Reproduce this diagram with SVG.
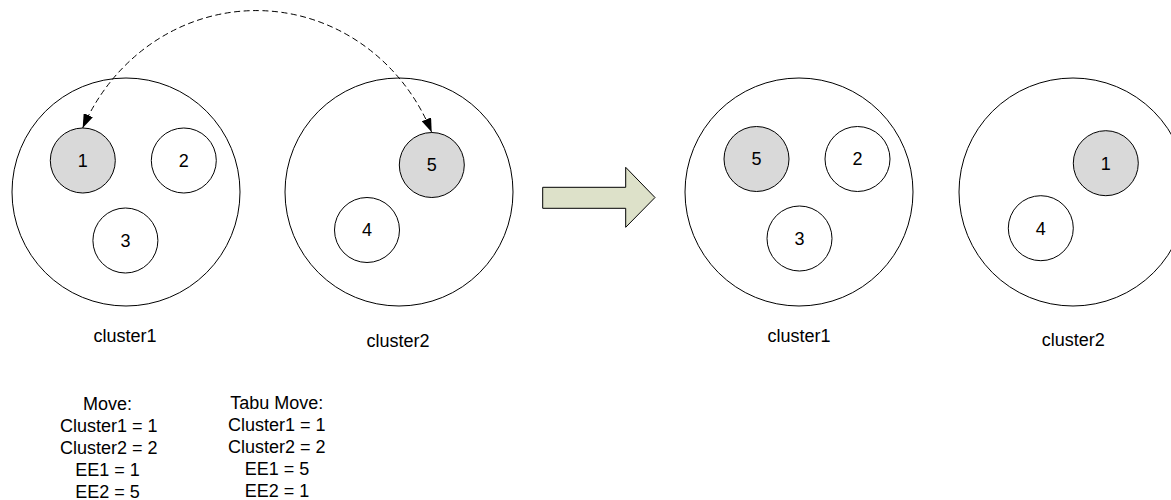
<svg xmlns="http://www.w3.org/2000/svg" width="1171" height="500" viewBox="0 0 1171 500">
  <style>
    .cluster { fill: #ffffff; stroke: #000000; stroke-width: 1; }
    .item { fill: #ffffff; stroke: #000000; stroke-width: 1; }
    .sel { fill: #d9d9d9; }
    text { font-family: "Liberation Sans", Arial, sans-serif; font-size: 18px; fill: #000000; text-anchor: middle; }
    .swap { fill: none; stroke: #000000; stroke-width: 1; stroke-dasharray: 6 3.5; }
    .step { fill: #dde1c9; stroke: #000000; stroke-width: 1; }
  </style>
  <defs>
    <marker id="head" viewBox="0 0 14 10" refX="14" refY="5" markerWidth="14" markerHeight="10" markerUnits="userSpaceOnUse" orient="auto-start-reverse">
      <path d="M0,0 L14,5 L0,10 Z" fill="#000000"/>
    </marker>
  </defs>
  <rect width="1171" height="500" fill="#ffffff"/>

  <!-- before: cluster1 -->
  <g id="before-cluster1">
    <circle class="cluster" cx="126" cy="192" r="114"/>
    <text x="125" y="342.3">cluster1</text>
  </g>
  <g id="before-item1">
    <circle class="item sel" cx="82.8" cy="160.5" r="32.5"/>
    <text x="82.8" y="166.9">1</text>
  </g>
  <g id="before-item2">
    <circle class="item" cx="183.8" cy="160.5" r="32.5"/>
    <text x="183.8" y="166.9">2</text>
  </g>
  <g id="before-item3">
    <circle class="item" cx="125.4" cy="240.5" r="32.5"/>
    <text x="125.4" y="246.9">3</text>
  </g>

  <!-- before: cluster2 -->
  <g id="before-cluster2">
    <circle class="cluster" cx="399" cy="192" r="114"/>
    <text x="398" y="346.7">cluster2</text>
  </g>
  <g id="before-item5">
    <circle class="item sel" cx="431.8" cy="165" r="32.5"/>
    <text x="431.8" y="171.4">5</text>
  </g>
  <g id="before-item4">
    <circle class="item" cx="367" cy="230" r="32.5"/>
    <text x="367" y="236.4">4</text>
  </g>

  <!-- swap connector and transition arrow -->
  <g id="connectors">
    <path class="swap" d="M 82.7 128 A 190.6 200 0 0 1 431.7 132.3" marker-start="url(#head)" marker-end="url(#head)"/>
    <polygon class="step" points="542.7,187.3 625.7,187.3 625.7,167.3 655,197.5 625.7,227.3 625.7,208.3 542.7,208.3"/>
  </g>

  <!-- after: cluster1 -->
  <g id="after-cluster1">
    <circle class="cluster" cx="799" cy="192" r="114"/>
    <text x="799" y="341.7">cluster1</text>
  </g>
  <g id="after-item5">
    <circle class="item sel" cx="756.5" cy="159" r="32.5"/>
    <text x="756.5" y="165.4">5</text>
  </g>
  <g id="after-item2">
    <circle class="item" cx="857.5" cy="159" r="32.5"/>
    <text x="857.5" y="165.4">2</text>
  </g>
  <g id="after-item3">
    <circle class="item" cx="799.5" cy="238.5" r="32.5"/>
    <text x="799.5" y="244.9">3</text>
  </g>

  <!-- after: cluster2 -->
  <g id="after-cluster2">
    <circle class="cluster" cx="1073" cy="192" r="114"/>
    <text x="1073.3" y="345.7">cluster2</text>
  </g>
  <g id="after-item1">
    <circle class="item sel" cx="1105.8" cy="163.2" r="32.5"/>
    <text x="1105.8" y="169.6">1</text>
  </g>
  <g id="after-item4">
    <circle class="item" cx="1040.8" cy="228.2" r="32.5"/>
    <text x="1040.8" y="234.6">4</text>
  </g>

  <!-- move descriptions -->
  <g id="move-text">
    <text x="107.5" y="410.2">Move:</text>
    <text x="108.7" y="432.2">Cluster1 = 1</text>
    <text x="108.7" y="454.2">Cluster2 = 2</text>
    <text x="107.5" y="476">EE1 = 1</text>
    <text x="107.5" y="497.6">EE2 = 5</text>
  </g>
  <g id="tabu-text">
    <text x="276.7" y="408.6">Tabu Move:</text>
    <text x="276.7" y="430.8">Cluster1 = 1</text>
    <text x="276.7" y="452.9">Cluster2 = 2</text>
    <text x="277" y="475">EE1 = 5</text>
    <text x="277" y="497.2">EE2 = 1</text>
  </g>
</svg>
